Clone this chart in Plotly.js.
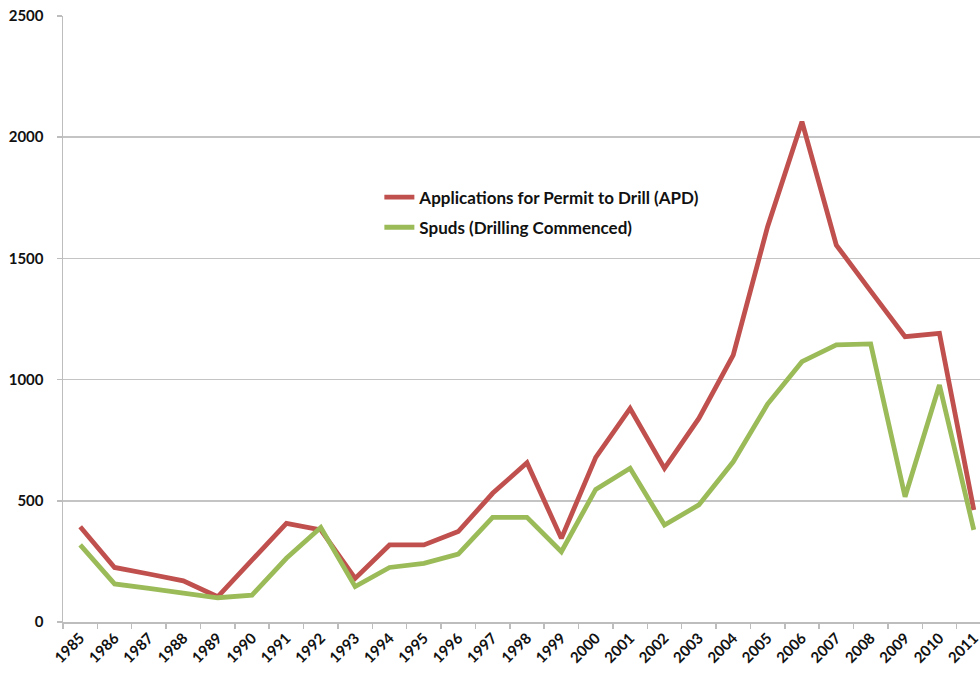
<!DOCTYPE html>
<html>
<head>
<meta charset="utf-8">
<script src="https://cdn.plot.ly/plotly-3.0.1.min.js"></script>
<style>html,body{margin:0;padding:0;background:#fff;overflow:hidden;}</style>
</head>
<body>
<div id="chart" style="width:980px;height:673px;"></div>
<script>
const years = ["1985","1986","1987","1988","1989","1990","1991","1992","1993","1994","1995","1996","1997","1998","1999","2000","2001","2002","2003","2004","2005","2006","2007","2008","2009","2010","2011"];
const apd = [393,225,198,170,104,256,407,380,180,318,318,373,531,657,345,679,881,634,840,1101,1631,2064,1555,1365,1177,1191,462];
const spuds = [318,157,139,118,100,111,263,390,146,225,242,280,432,432,290,547,634,400,483,661,899,1074,1143,1147,517,978,380];
const seriesNames = ["Applications for Permit to Drill (APD)", "Spuds (Drilling Commenced)"];

const font = {family: "Lato, 'Open Sans', sans-serif", size: 15, color: "#111", weight: "bold"};

const traces = [
  {x: years, y: apd, name: seriesNames[0], type: "scatter", mode: "lines", legendgroup: "a",
   line: {color: "#c0504d", width: 4.8}},
  {x: years, y: spuds, name: seriesNames[1], type: "scatter", mode: "lines", legendgroup: "b",
   line: {color: "#9bbb59", width: 4.8}}
];

const layout = {
  width: 980, height: 673,
  margin: {l: 63, r: 0, t: 16, b: 51},
  paper_bgcolor: "#fff", plot_bgcolor: "#fff",
  font: font,
  showlegend: true,
  legend: {x: 0.345, y: 0.73, xanchor: "left", yanchor: "top", bgcolor: "rgba(0,0,0,0)",
           font: {family: "Lato, 'Open Sans', sans-serif", size: 17, color: "#111", weight: "bold"},
           traceorder: "grouped", tracegroupgap: 5},
  xaxis: {
    type: "category", range: [-0.5, 26.18],
    showgrid: false, showline: true, linecolor: "#bdbdbd", linewidth: 1.5,
    ticks: "outside", ticklen: 5, tickcolor: "#bdbdbd", tickwidth: 1.5, tickson: "boundaries",
    tickangle: -45, tickfont: font, zeroline: false
  },
  yaxis: {
    range: [0, 2500], dtick: 500, tick0: 0,
    showgrid: true, gridcolor: "#c4c4c4", gridwidth: 1.5,
    showline: true, linecolor: "#bdbdbd", linewidth: 1.5,
    ticks: "outside", ticklen: 5, tickcolor: "#bdbdbd", tickwidth: 1.5,
    tickfont: font, zeroline: false, ticklabelstandoff: 10
  }
};

Plotly.newPlot("chart", traces, layout, {displayModeBar: false, staticPlot: true});
</script>
</body>
</html>
